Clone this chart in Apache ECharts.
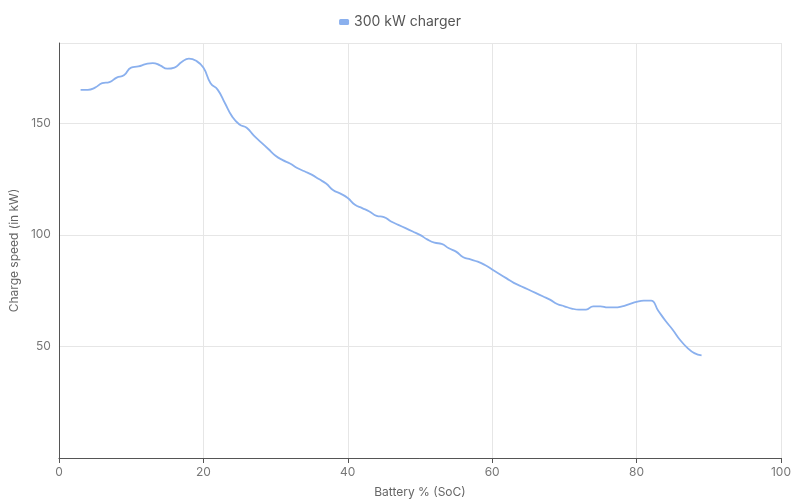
<!DOCTYPE html>
<html><head><meta charset="utf-8">
<script src="https://cdn.jsdelivr.net/npm/echarts@6/dist/echarts.min.js"></script>
<style>html,body{margin:0;padding:0;background:#fff}#c{width:800px;height:503px}</style>
</head><body><div id="c"></div>
<script>
const soc = [3,4,5,6,7,8,9,10,11,12,13,14,15,16,17,18,19,20,21,22,23,24,25,26,27,28,29,30,31,32,33,34,35,36,37,38,39,40,41,42,43,44,45,46,47,48,49,50,51,52,53,54,55,56,57,58,59,60,61,62,63,64,65,66,67,68,69,70,71,72,73,74,75,76,77,78,79,80,81,82,83,84,85,86,87,88,89];
const power = [165,165,166,168,168.5,170.5,171.5,175,175.5,176.5,177,176,174.5,175,177.5,179,178,175,168,165,159,153,149.5,148,144.5,141.5,138.5,135.5,133.5,132,130,128.5,127,125,123,120,118.5,116.5,113.5,112,110.5,108.5,108,106,104.5,103,101.5,100,98,96.5,96,94,92.5,90,89,88,86.5,84.5,82.5,80.5,78.5,77,75.5,74,72.5,71,69,68,67,66.5,66.5,68,68,67.5,67.5,68,69,70,70.5,70.5,66,61.5,57.5,53,49.5,47,46];
const seriesName = '300 kW charger';
const chart = echarts.init(document.getElementById('c'));
const font = 'Inter, Roboto, sans-serif';
chart.setOption({
  animation:false,
  legend:{top:10,left:'center',icon:'roundRect',itemWidth:10,itemHeight:6,textStyle:{fontFamily:font,fontSize:14,color:'#555'}},
  grid:{left:51,right:19,top:43,bottom:44},
  xAxis:{type:'value',min:0,max:100,interval:20,name:'Battery % (SoC)',nameLocation:'middle',nameGap:28,
    nameTextStyle:{fontFamily:font,fontSize:12,color:'#666'},
    axisLine:{lineStyle:{color:'#555'}},axisTick:{show:true,lineStyle:{color:'#555'}},
    axisLabel:{fontFamily:font,color:'#777',fontSize:12},splitLine:{lineStyle:{color:'#e6e6e6'}}},
  yAxis:{type:'value',min:0,max:186,interval:50,name:'Charge speed (in kW)',nameLocation:'middle',nameGap:34,
    nameTextStyle:{fontFamily:font,fontSize:12,color:'#666'},
    axisLine:{show:true,lineStyle:{color:'#555'}},axisTick:{show:false},
    axisLabel:{fontFamily:font,color:'#777',fontSize:12,showMinLabel:false,showMaxLabel:false},splitLine:{lineStyle:{color:'#e6e6e6'}}},
  series:[{name:seriesName,type:'line',smooth:true,showSymbol:false,data:soc.map((s,i)=>[s,power[i]]),
    lineStyle:{color:'#8ab0ee',width:1.8},itemStyle:{color:'#8ab0ee'}}]
});
</script></body></html>
